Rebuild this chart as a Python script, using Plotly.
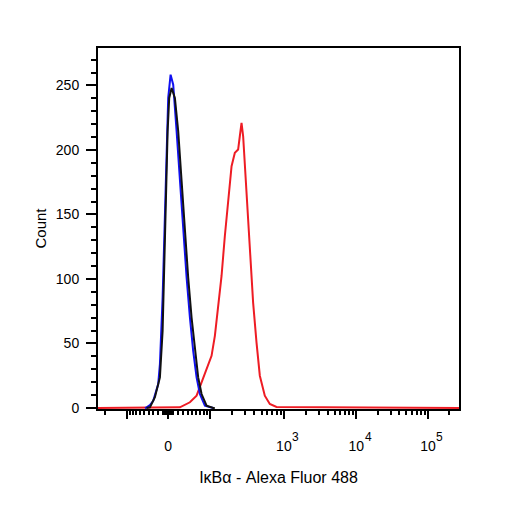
import numpy as np
import plotly.graph_objects as go

# x values are in logicle display units (0 = zero intensity), y values are event counts
blue_x = [-0.75, -0.695, -0.588, -0.482, -0.322, -0.267, -0.180, -0.106, -0.051, 0.0, 0.077,
          0.161, 0.270, 0.376, 0.482, 0.592, 0.698, 0.804, 0.913, 1.019, 1.180, 1.395, 1.45]
blue_y = [0, 0.5, 2.3, 5.6, 18.6, 34.0, 85.6, 150.0, 201.6, 240.3, 258.3,
          250.6, 214.5, 175.8, 137.1, 101.1, 70.1, 44.3, 23.7, 10.8, 1.8, 0, 0]

black_x = [-0.70, -0.588, -0.428, -0.267, -0.180, -0.129, -0.074, -0.019, 0.032, 0.109,
           0.215, 0.322, 0.431, 0.537, 0.643, 0.752, 0.859, 0.965, 1.074, 1.235, 1.447, 1.50]
black_y = [0, 0.5, 8.3, 23.7, 59.8, 111.4, 163.0, 214.5, 240.3, 248.0,
           240.3, 214.5, 175.8, 137.1, 101.1, 70.1, 44.3, 23.7, 10.8, 1.8, 0, 0]

red_x = [-2.26, 0.376, 0.698, 0.913, 1.074, 1.235, 1.395, 1.502, 1.608, 1.717, 1.823, 1.929,
         2.039, 2.145, 2.251, 2.305, 2.360, 2.412, 2.521, 2.627, 2.733, 2.842, 2.949, 3.109,
         3.270, 3.486, 9.36]
red_y = [0, 0.5, 4.4, 9.5, 19.9, 30.2, 40.4, 55.9, 76.6, 102.3, 133.3, 161.6,
         187.4, 197.8, 200.3, 210.6, 221.0, 210.6, 166.8, 120.4, 81.7, 50.8, 25.0, 9.5,
         3.1, 0.8, 0]

x_major_vals = [-100, 0, 100, 1000, 10000, 100000]
x_major_text = ["", "0", "", "10", "10", "10"]
x_exponents = [3, 4, 5]

y_major_vals = [0, 50, 100, 150, 200, 250]

LOGICLE_K = 23.4
LOGICLE_P = 1.6


def logicle_pos(values):
    """Intensity -> logicle display position (numerical inverse of the logicle function)."""
    grid = np.linspace(-4, 11, 30001)
    a = np.abs(grid)
    s = np.sign(grid) * LOGICLE_K * (np.exp(a) - LOGICLE_P ** 2 * np.exp(-a / LOGICLE_P) + LOGICLE_P ** 2 - 1)
    return np.interp(values, s, grid)


minor_vals = [-200] + [-10 * k for k in range(1, 10)] + [-k for k in range(1, 10)] + list(range(1, 10))
minor_vals += [10 * k for k in range(1, 10)]
for dec in [100, 1000, 10000]:
    minor_vals += [dec * k for k in range(2, 10)]
minor_vals += [200000]

fig = go.Figure()
fig.add_trace(go.Scatter(x=red_x, y=red_y, mode="lines", line=dict(color="#ee1c24", width=2)))
fig.add_trace(go.Scatter(x=blue_x, y=blue_y, mode="lines", line=dict(color="#1010f0", width=2)))
fig.add_trace(go.Scatter(x=black_x, y=black_y, mode="lines", line=dict(color="#111111", width=2)))

# exponents of the 10^n tick labels, drawn bigger than plotly's <sup>
for e in x_exponents:
    fig.add_annotation(x=float(logicle_pos(10 ** e)), xref="x", y=0, yref="paper",
                       text=str(e), showarrow=False, xshift=12, yshift=-28,
                       font=dict(size=12), xanchor="center", yanchor="middle")

# page body has an 8px margin, so the figure is 498 wide/high and offsets are reduced
font = "Liberation Sans, Arial, sans-serif"
fig.update_layout(
    width=498, height=498,
    margin=dict(l=90, r=47, t=40, b=97),
    paper_bgcolor="white", plot_bgcolor="white",
    showlegend=False,
    font=dict(family=font, color="black", size=14),
    xaxis=dict(
        range=[-2.26, 9.36],
        tickmode="array",
        tickvals=list(logicle_pos(x_major_vals)),
        ticktext=x_major_text,
        ticks="outside", ticklen=8, tickwidth=2, tickcolor="black",
        minor=dict(tickvals=list(logicle_pos(minor_vals)), ticks="outside",
                   ticklen=4, tickwidth=1.5, tickcolor="black"),
        showline=True, linecolor="black", linewidth=2, mirror=True,
        showgrid=False, zeroline=False,
        ticklabelstandoff=15,
        tickfont=dict(size=14),
        title=dict(text="IκBα - Alexa Fluor 488", font=dict(size=16), standoff=19),
        layer="below traces",
    ),
    yaxis=dict(
        range=[-0.8, 279],
        tickmode="array",
        tickvals=y_major_vals,
        ticks="outside", ticklen=10, tickwidth=2, tickcolor="black",
        minor=dict(dtick=10, ticks="outside", ticklen=5, tickwidth=1.5, tickcolor="black"),
        showline=True, linecolor="black", linewidth=2, mirror=True,
        showgrid=False, zeroline=False,
        ticklabelstandoff=4,
        tickfont=dict(size=14),
        title=dict(text="Count", font=dict(size=15), standoff=6),
        layer="below traces",
    ),
)

fig.write_html("out.html")
